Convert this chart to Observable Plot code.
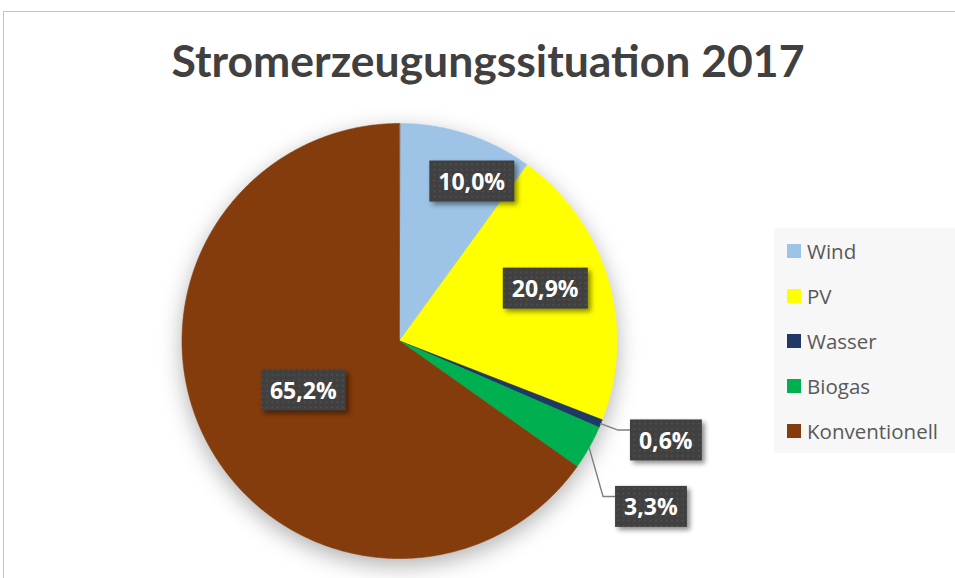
<!DOCTYPE html>
<html><head><meta charset="utf-8">
<script src="https://cdn.jsdelivr.net/npm/d3@7"></script>
<script src="https://cdn.jsdelivr.net/npm/@observablehq/plot@0.6"></script>
<style>
html,body{margin:0;padding:0;background:#fff;overflow:hidden;}
#wrap{position:relative;width:955px;height:578px;overflow:hidden;background:#fff;}
#frame{position:absolute;left:3px;top:10.5px;width:1400px;height:1400px;border:1.5px solid #c3c3c3;box-sizing:border-box;}
#title{position:absolute;left:0;top:37.5px;width:976px;text-align:center;font-family:Lato;font-weight:bold;font-size:44.5px;line-height:44.5px;color:#404040;white-space:nowrap;}
#chart{position:absolute;left:0;top:0;}
#legend{position:absolute;left:774px;top:228px;width:181px;height:225px;background:#f7f7f7;box-sizing:border-box;padding:0.5px 0 0 13px;}
#legend .lg-swatches{margin:0 !important;padding:0 !important;columns:auto !important;display:block !important;min-height:0 !important;font-family:"Open Sans" !important;font-size:20.5px !important;color:#595959 !important;}
#legend .lg-swatch{height:45px !important;margin:0 !important;padding:0 !important;display:flex !important;align-items:center !important;font-family:"Open Sans" !important;font-size:20.5px !important;color:#595959 !important;}
#legend .lg-swatch svg{margin-right:6px !important;flex-shrink:0;}
</style>
</head><body>
<div id="wrap">
  <div id="frame"></div>
  <div id="chart"></div>
  <div id="title"></div>
  <div id="legend"></div>
</div>
<script>
// ---- data ----
const titleText = "Stromerzeugungssituation 2017";
const categories = ["Wind", "PV", "Wasser", "Biogas", "Konventionell"];
const shares = [10.0, 20.9, 0.6, 3.3, 65.2];
const colors = ["#9dc3e6", "#ffff00", "#1f3864", "#00b050", "#843c0c"];

// ---- label layout (placement only) ----
const labelRadius = [0.80, 0.71, 1.154, 1.252, 0.50];
const labelShiftDeg = [6.5, -3.0, 1.3, 8.5, -0.4];
const labelOutside = [false, false, true, true, false];

document.getElementById("title").textContent = titleText;

const pie = d3.pie().sort(null).value(d => d.v)(categories.map((c, i) => ({c, v: shares[i]})));
const polar = (r, a) => [r * Math.sin(a), r * Math.cos(a)];

const slicePts = [];
pie.forEach(p => {
  const n = Math.max(2, Math.ceil((p.endAngle - p.startAngle) / (Math.PI / 360)));
  slicePts.push({c: p.data.c, x: 0, y: 0});
  for (let k = 0; k <= n; k++) {
    const a = p.startAngle + (p.endAngle - p.startAngle) * k / n;
    const [x, y] = polar(1, a);
    slicePts.push({c: p.data.c, x, y});
  }
});

const xRange = [181.5, 616.5], yRange = [558, 123];
const PX = 2 / (xRange[1] - xRange[0]);
const fmt = v => d3.format(".1f")(v).replace(".", ",") + "%";
const labels = pie.map((p, i) => {
  const mid = (p.startAngle + p.endAngle) / 2;
  const a = mid + labelShiftDeg[i] * Math.PI / 180;
  const [x, y] = polar(labelRadius[i], a);
  const [ex, ey] = polar(1, mid);
  return {c: p.data.c, text: fmt(shares[i]), x, y, ex, ey, outside: labelOutside[i]};
});
const leaders = labels.filter(d => d.outside).flatMap(d => [
  {c: d.c, x: d.ex, y: d.ey},
  {c: d.c, x: d.x - 11.5 * PX, y: d.y + 11.5 * PX},
  {c: d.c, x: d.x, y: d.y + 11.5 * PX}
]);

const textOpts = {x: "x", y: "y", text: "text", fill: "white", fontSize: 23, fontWeight: "bold", fontFamily: "Open Sans", ariaDescription: "pct-label"};

const svg = Plot.plot({
  width: 955, height: 578,
  margin: 0,
  x: {domain: [-1, 1], range: xRange, axis: null},
  y: {domain: [-1, 1], range: yRange, axis: null},
  color: {domain: categories, range: colors},
  marks: [
    Plot.line(slicePts, {x: "x", y: "y", z: "c", fill: "c", stroke: "c", strokeWidth: 0.6, curve: "linear-closed", ariaDescription: "pie"}),
    Plot.line(leaders, {x: "x", y: "y", z: "c", stroke: "#7f7f7f", strokeWidth: 1.4}),
    Plot.text(labels.filter(d => !d.outside), textOpts),
    Plot.text(labels.filter(d => d.outside), {...textOpts, textAnchor: "start", dx: 9.5})
  ]
});
svg.style.background = "transparent";
document.getElementById("chart").append(svg);

const ns = "http://www.w3.org/2000/svg";
const defs = document.createElementNS(ns, "defs");
defs.innerHTML = `<pattern id="dots" width="5.4" height="5.4" patternUnits="userSpaceOnUse">
<rect width="5.4" height="5.4" fill="#404040"/><rect x="1.5" y="1.5" width="1.8" height="1.8" fill="#505050"/></pattern>`;
svg.insertBefore(defs, svg.firstChild);

const pieG = svg.querySelector('g[aria-description="pie"]');
if (pieG) pieG.style.filter = "drop-shadow(0px 7px 11px rgba(0,0,0,0.30))";

const sr = svg.getBoundingClientRect();
svg.querySelectorAll('g[aria-description="pct-label"]').forEach(g => {
  const boxG = document.createElementNS(ns, "g");
  boxG.style.filter = "drop-shadow(3px 3px 2.5px rgba(0,0,0,0.45))";
  g.querySelectorAll("text").forEach(t => {
    const b = t.getBoundingClientRect();
    const r = document.createElementNS(ns, "rect");
    const cy = (b.top + b.bottom) / 2 - sr.top;
    r.setAttribute("x", b.left - sr.left - 9);
    r.setAttribute("width", b.width + 18);
    r.setAttribute("y", cy - 20.5);
    r.setAttribute("height", 41);
    r.setAttribute("fill", "url(#dots)");
    boxG.append(r);
  });
  g.parentNode.insertBefore(boxG, g);
});

const legend = Plot.legend({
  color: {domain: categories, range: colors},
  legend: "swatches",
  columns: 1,
  swatchSize: 14,
  className: "lg"
});
document.getElementById("legend").append(legend);
</script>
</body></html>
